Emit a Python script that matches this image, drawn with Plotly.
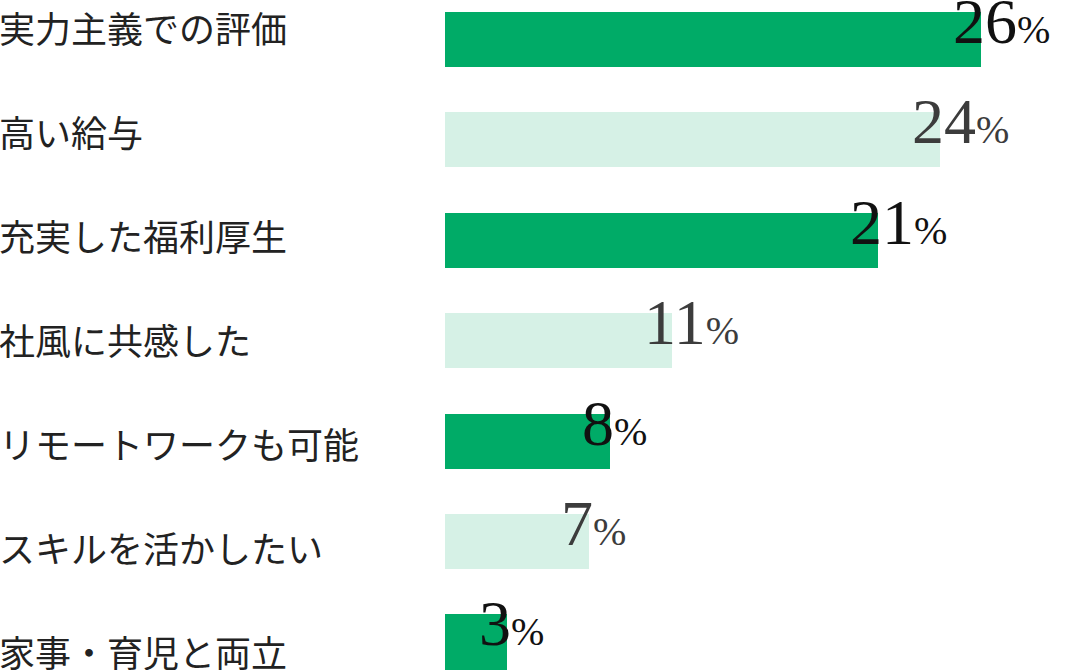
import plotly.graph_objects as go

# reasons given (share of respondents, %)
reasons = ["実力主義での評価", "高い給与", "充実した福利厚生", "社風に共感した",
           "リモートワークも可能", "スキルを活かしたい", "家事・育児と両立"]
shares = [26, 24, 21, 11, 8, 7, 3]

DARK = "#00ab67"
LIGHT = "#d6f1e6"

rows = list(range(len(reasons)))
bar_colors = [DARK if i % 2 == 0 else LIGHT for i in rows]

fig = go.Figure()
fig.add_trace(go.Bar(
    x=shares,
    y=rows,
    orientation="h",
    width=0.548,
    marker=dict(color=bar_colors, line=dict(width=0)),
    hoverinfo="skip",
))

annotations = []
for i, (name, val) in enumerate(zip(reasons, shares)):
    # category name on the far left
    annotations.append(dict(
        text=name, xref="paper", x=-445 / 620, xanchor="left", xshift=-3,
        yref="y", y=i * 1.035 - 0.125, yanchor="middle",
        showarrow=False,
        font=dict(family="Noto Sans CJK JP", size=36, color="#222222"),
    ))
    # big serif number with a small percent sign
    annotations.append(dict(
        text=f"{val}<span style='font-size:40px'>%</span>",
        xref="x", x=val, xanchor="left", xshift=-30,
        yref="y", y=i, yanchor="middle", yshift=18,
        showarrow=False,
        font=dict(family="Liberation Serif", size=64,
                  color="#111111" if i % 2 == 0 else "#3c3c3c"),
    ))

fig.update_layout(
    width=1065, height=670,
    margin=dict(l=445, r=0, t=0, b=0),
    paper_bgcolor="white", plot_bgcolor="white",
    showlegend=False,
    bargap=0,
    xaxis=dict(range=[0, 620 / (536 / 26)], visible=False, fixedrange=True),
    yaxis=dict(range=[6.279, -0.393], visible=False, fixedrange=True),
    annotations=annotations,
)

# drop the default page margin so the chart sits at the window's corner
fig.write_html("out.html", config={"displayModeBar": False},
               post_script="document.body.style.margin='0';")
